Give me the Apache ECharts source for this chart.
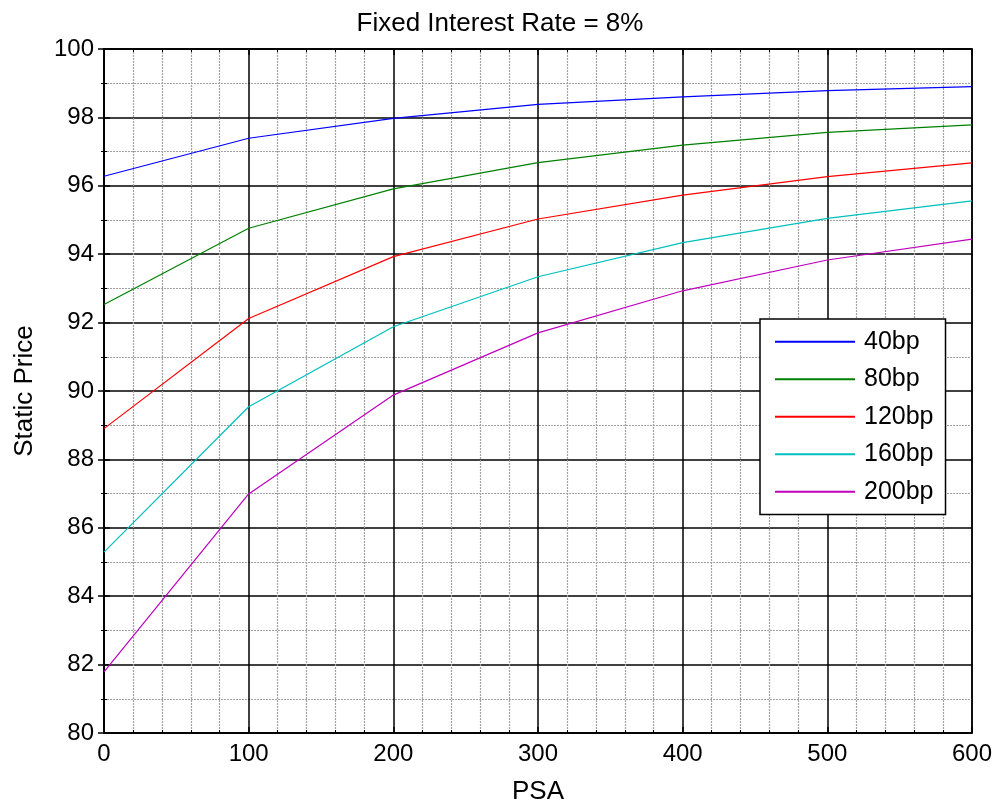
<!DOCTYPE html>
<html>
<head>
<meta charset="utf-8">
<script src="https://cdn.jsdelivr.net/npm/echarts@6/dist/echarts.min.js"></script>
<style>
  html, body { margin: 0; padding: 0; background: #fff; }
  #main { width: 1000px; height: 806px; }
</style>
</head>
<body>
<div id="main"></div>
<script>
// PSA values on the x axis
var psa = [0, 100, 200, 300, 400, 500, 600];

// static price per spread
var bp40  = [96.28, 97.39, 97.97, 98.38, 98.60, 98.78, 98.90];
var bp80  = [92.53, 94.76, 95.91, 96.68, 97.19, 97.56, 97.78];
var bp120 = [88.90, 92.12, 93.93, 95.03, 95.73, 96.27, 96.67];
var bp160 = [85.29, 89.54, 91.88, 93.34, 94.34, 95.05, 95.56];
var bp200 = [81.79, 86.99, 89.88, 91.70, 92.93, 93.83, 94.44];

var seriesNames = ['40bp', '80bp', '120bp', '160bp', '200bp'];
var seriesData = [bp40, bp80, bp120, bp160, bp200];
var seriesColors = ['#0000ff', '#008000', '#ff0000', '#00bfbf', '#bf00bf'];

function pairs(ys) {
  return psa.map(function (x, i) { return [x, ys[i]]; });
}

var font = 'Liberation Sans, Arial, sans-serif';

var myChart = echarts.init(document.getElementById('main'));

// grid lines: black major, grey dotted minor
var majorLine = { show: true, lineStyle: { color: '#000', width: 1.5, type: 'solid' } };
var minorLine = { show: true, lineStyle: { color: '#a0a0a0', width: 1.2, type: [2, 1] } };
var tickIn = { show: true, inside: true, length: 6, lineStyle: { color: '#000', width: 1.5 } };
var minorTickIn = { show: true, splitNumber: 5, length: 3, lineStyle: { color: '#000' } };

var option = {
  backgroundColor: '#fff',
  animation: false,
  title: {
    text: 'Fixed Interest Rate = 8%',
    left: 'center',
    top: 6,
    textStyle: { fontFamily: font, fontWeight: 'normal', fontSize: 26, color: '#000' }
  },
  legend: {
    data: seriesNames.map(function (n) { return { name: n, icon: 'rect' }; }),
    orient: 'vertical',
    left: 760,
    top: 319,
    itemWidth: 80,
    itemHeight: 2,
    itemGap: 10,
    padding: [9, 12, 9, 15],
    backgroundColor: '#fff',
    borderColor: '#000',
    borderWidth: 1.5,
    borderRadius: 0,
    textStyle: { fontFamily: font, fontSize: 25, lineHeight: 27.5, color: '#000', padding: [0, 0, 0, 4] }
  },
  grid: {
    left: 104,
    right: 28,
    top: 49,
    bottom: 73,
    outerBoundsMode: 'none',
    show: true,
    borderColor: '#000',
    borderWidth: 1.5
  },
  xAxis: [{
    type: 'value',
    min: 0,
    max: 600,
    interval: 100,
    name: 'PSA',
    nameLocation: 'middle',
    nameGap: 46,
    nameTextStyle: { fontFamily: font, fontSize: 26, color: '#000' },
    axisLine: { show: true, lineStyle: { color: '#000', width: 1.5 } },
    axisTick: tickIn,
    minorTick: minorTickIn,
    axisLabel: { fontFamily: font, fontSize: 24, color: '#000', margin: 9 },
    splitLine: majorLine,
    minorSplitLine: minorLine
  }, {
    type: 'value',
    position: 'top',
    min: 0,
    max: 600,
    interval: 100,
    axisLine: { show: true, lineStyle: { color: '#000', width: 1.5 } },
    axisTick: tickIn,
    minorTick: minorTickIn,
    axisLabel: { show: false },
    splitLine: { show: false }
  }],
  yAxis: [{
    type: 'value',
    min: 80,
    max: 100,
    interval: 2,
    name: 'Static Price',
    nameLocation: 'middle',
    nameGap: 66,
    nameTextStyle: { fontFamily: font, fontSize: 26, color: '#000' },
    axisLine: { show: true, lineStyle: { color: '#000', width: 1.5 } },
    axisTick: tickIn,
    minorTick: { show: true, splitNumber: 2, length: 3, lineStyle: { color: '#000' } },
    axisLabel: { fontFamily: font, fontSize: 24, color: '#000', margin: 10 },
    splitLine: majorLine,
    minorSplitLine: minorLine
  }, {
    type: 'value',
    position: 'right',
    min: 80,
    max: 100,
    interval: 2,
    axisLine: { show: true, lineStyle: { color: '#000', width: 1.5 } },
    axisTick: tickIn,
    minorTick: { show: true, splitNumber: 2, length: 3, lineStyle: { color: '#000' } },
    axisLabel: { show: false },
    splitLine: { show: false }
  }],
  series: seriesNames.map(function (name, i) {
    return {
      name: name,
      type: 'line',
      data: pairs(seriesData[i]),
      symbol: 'none',
      color: seriesColors[i],
      lineStyle: { width: 1.2, color: seriesColors[i] },
      z: 3
    };
  })
};

myChart.setOption(option);
</script>
</body>
</html>
